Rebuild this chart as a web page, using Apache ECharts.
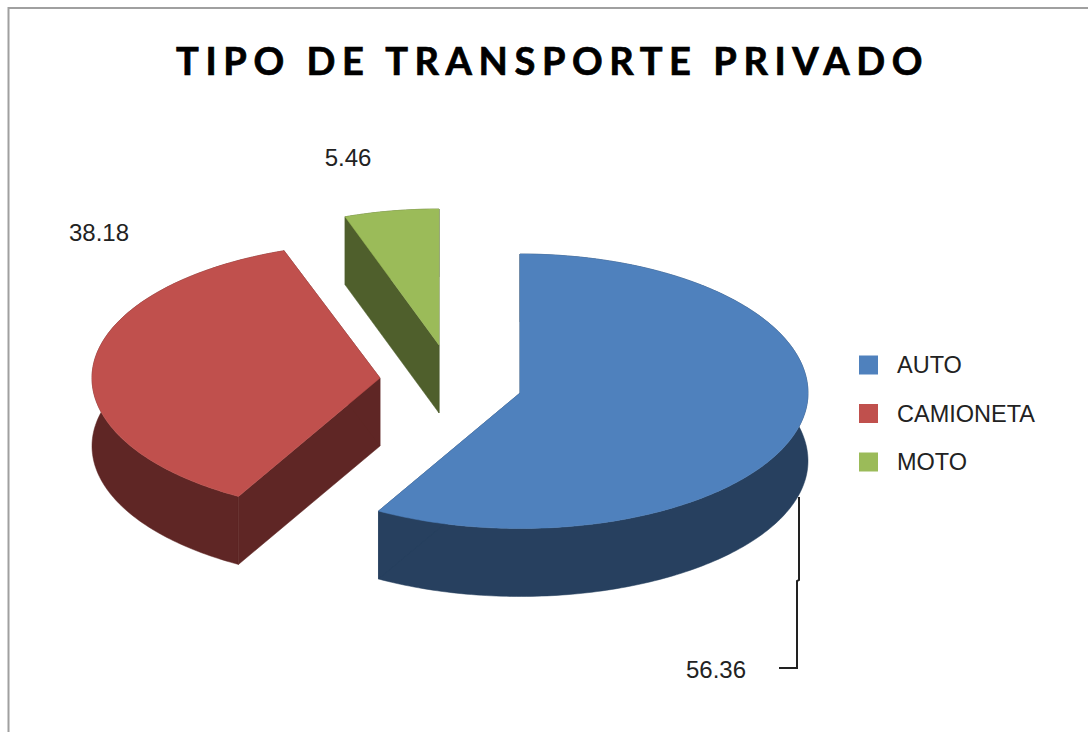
<!DOCTYPE html>
<html><head><meta charset="utf-8">
<style>
html,body{margin:0;padding:0;background:#fff}
#main{width:1088px;height:732px}
#main text[style*="38px"]{letter-spacing:6.6px;stroke:#000;stroke-width:.7px}
</style>
<script src="https://cdn.jsdelivr.net/npm/echarts@6/dist/echarts.min.js"></script>
</head><body><div id="main"></div>
<script>
const titleText = 'TIPO DE TRANSPORTE PRIVADO';
const categories = ['AUTO', 'CAMIONETA', 'MOTO'];
const values = [56.36, 38.18, 5.46];
const topColors = ['#4F81BD', '#C0504D', '#9BBB59'];
const sideColors = ['#27405F', '#5F2625', '#4F5F2C'];
// exploded slice layouts
const layouts = [
  {cx: 520, cy: 393, rx: 288, far: 139, near: 135.5, lx: 716, ly: 669},
  {cx: 380, cy: 378, rx: 288, far: 135, near: 136, lx: 99, ly: 232},
  {cx: 439, cy: 345, rx: 282, far: 136, near: 135, lx: 348, ly: 157}
];
const depth = 68;
const total = values.reduce((a, b) => a + b, 0);

function project(i, deg) {
  const L = layouts[i];
  // Oblique view slightly skews the plotted angle
  const t = (deg + 3.4 * (1 - Math.cos(deg * Math.PI / 180))) * Math.PI / 180;
  const c = Math.cos(t);
  return [L.cx + L.rx * Math.sin(t), L.cy - (c >= 0 ? L.far : L.near) * c];
}
function arc(i, a0, a1) {
  const pts = [];
  const n = Math.max(4, Math.ceil(a1 - a0));
  for (let k = 0; k <= n; k++) pts.push(project(i, a0 + (a1 - a0) * k / n));
  return pts;
}
const down = p => [p[0], p[1] + depth];
const poly = (points, fill) => ({
  type: 'polygon', shape: {points}, style: {fill, stroke: fill, lineWidth: 0.5}
});

function makeRender(i) {
  const start = values.slice(0, i).reduce((a, b) => a + b, 0) / total * 360;
  const end = start + values[i] / total * 360;
  return function () {
    const L = layouts[i];
    const apex = [L.cx, L.cy];
    const rim = arc(i, start, end);
    const first = rim[0], last = rim[rim.length - 1];
    const side = sideColors[i];
    const children = [
      poly(rim.concat(rim.map(down).reverse()), side),
      poly([apex, first, down(first), down(apex)], side),
      poly([apex, last, down(last), down(apex)], side),
      poly([apex].concat(rim), topColors[i]),
      {type: 'text', style: {
        text: values[i].toFixed(2), x: L.lx, y: L.ly, align: 'center', verticalAlign: 'middle',
        fill: '#222', font: '24px "Liberation Sans"'
      }}
    ];
    if (i === 0) {
      children.push({type: 'polyline',
        shape: {points: [[799, 497], [799, 580], [797, 581], [797, 668], [779, 668]]},
        style: {stroke: '#222', lineWidth: 2, fill: null}});
    }
    return {type: 'group', children};
  };
}

const chart = echarts.init(document.getElementById('main'), null, {renderer: 'svg'});
chart.setOption({
  animation: false,
  backgroundColor: '#fff',
  title: {
    text: titleText, left: 176, top: 41, padding: 0,
    textStyle: {fontFamily: 'Lato', fontWeight: 'bold', fontSize: 38, color: '#000'}
  },
  legend: {
    orient: 'vertical', left: 859, top: 353, itemWidth: 19, itemHeight: 19, itemGap: 24.5, padding: 0,
    icon: 'rect', data: categories,
    textStyle: {fontFamily: 'Liberation Sans', fontSize: 23.5, color: '#222', padding: [0, 0, 0, 14]}
  },
  graphic: [{type: 'polyline', silent: true,
    shape: {points: [[8.5, 732], [8.5, 8], [1088, 8]]},
    style: {stroke: '#A0A0A0', lineWidth: 2, fill: null}}],
  series: categories.map((name, i) => ({
    type: 'custom', name, coordinateSystem: 'none',
    itemStyle: {color: topColors[i]},
    data: [values[i]],
    renderItem: makeRender(i)
  }))
});
</script></body></html>
